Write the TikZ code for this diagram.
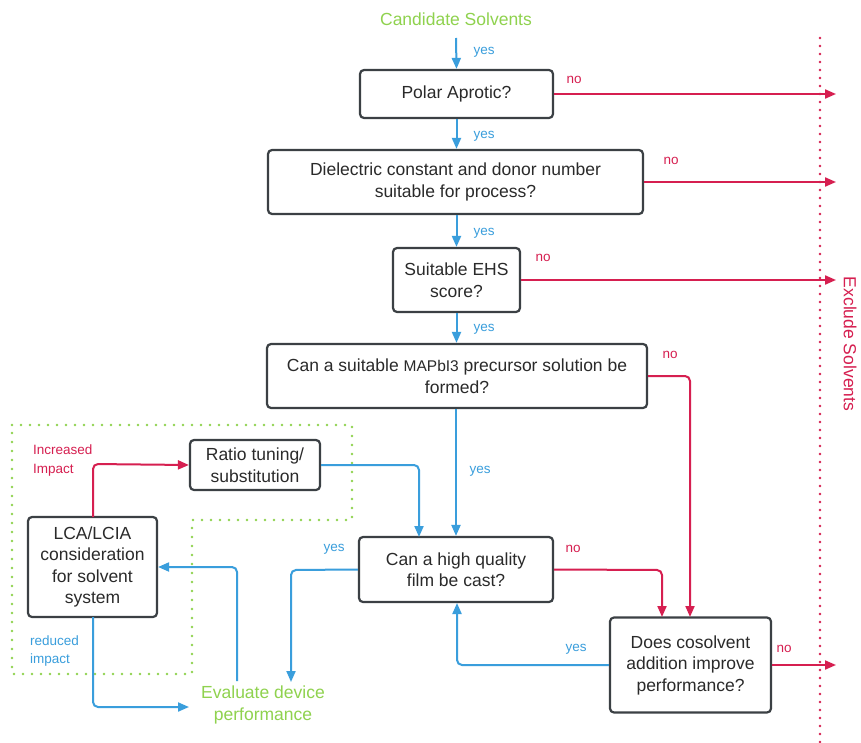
\documentclass[tikz,border=0pt]{standalone}
\usepackage{fontspec}
\setmainfont{Liberation Sans}
\usetikzlibrary{arrows.meta}
\definecolor{flowblue}{HTML}{3A9EDC}
\definecolor{flowred}{HTML}{D61F50}
\definecolor{flowgreen}{HTML}{8FD24E}
\definecolor{boxedge}{HTML}{3B4044}
\definecolor{boxtext}{HTML}{2A2A2A}
\begin{document}
\begin{tikzpicture}[x=1pt,y=-1pt,
  qbox/.style={draw=boxedge, line width=2.2pt, rounded corners=4pt, fill=white,
    text=boxtext, align=center, inner sep=0pt,
    font=\fontsize{17.5}{21.5}\selectfont},
  yesarrow/.style={draw=flowblue, line width=2pt, rounded corners=5pt,
    -{Triangle[length=11pt,width=9pt]}},
  noarrow/.style={draw=flowred, line width=2pt, rounded corners=5pt,
    -{Triangle[length=11pt,width=9pt]}},
  yeslbl/.style={text=flowblue, font=\fontsize{13.5}{16}\selectfont, inner sep=0pt},
  nolbl/.style={text=flowred, font=\fontsize{13.5}{16}\selectfont, inner sep=0pt},
  greentext/.style={text=flowgreen, align=center, inner sep=0pt,
    font=\fontsize{17.5}{22}\selectfont},
  greendots/.style={draw=flowgreen, line width=2.6pt, line cap=round,
    dash pattern=on 0pt off 9pt},
  reddots/.style={draw=flowred, line width=2.6pt, line cap=round,
    dash pattern=on 0pt off 8pt}
]
\useasboundingbox[fill=white] (0,0) rectangle (861,743);

% dotted frame around the impact loop
\draw[greendots] (12,425) -- (352,425) -- (352,520) -- (192,520) -- (192,674) -- (12,674) -- cycle;

% exclusion boundary
\draw[reddots] (820,38) -- (820,743);
\node[text=flowred, rotate=-90, inner sep=0pt, font=\fontsize{17.5}{21}\selectfont]
  (excl) at (850,344) {Exclude Solvents};
\coordinate (exx) at (836,0);

% start / end terms
\node[greentext] (cand) at (456,19) {Candidate Solvents};
\node[greentext] (eval) at (263,705) {Evaluate device\\performance};

% decision boxes
\node[qbox, minimum width=193pt, minimum height=48pt] (polar) at (456.5,94) {Polar Aprotic?};
\node[qbox, minimum width=375pt, minimum height=64pt] (diel) at (455.5,182)
  {Dielectric constant and donor number\\suitable for process?};
\node[qbox, minimum width=127pt, minimum height=64pt] (ehs) at (456.5,280) {Suitable EHS\\score?};
\node[qbox, minimum width=380pt, minimum height=64pt] (map) at (457,376)
  {Can a suitable {\fontsize{15.5}{21.5}\selectfont MAPbI3} precursor solution be\\formed?};
\node[qbox, minimum width=130pt, minimum height=50pt] (ratio) at (255,465) {Ratio tuning/\\substitution};
\node[qbox, minimum width=194pt, minimum height=65pt] (film) at (456,569.5) {Can a high quality\\film be cast?};
\node[qbox, minimum width=161pt, minimum height=95pt] (cos) at (690.5,665)
  {Does cosolvent\\addition improve\\performance?};
\node[qbox, minimum width=129pt, minimum height=100pt] (lca) at (92.5,567)
  {LCA/LCIA\\consideration\\for solvent\\system};

% main column
\draw[yesarrow] (456,38) -- (polar.north);
\draw[yesarrow] (polar.south) -- (polar.south |- diel.north);
\draw[yesarrow] (diel.south -| polar.south) -- (ehs.north);
\draw[yesarrow] (ehs.south) -- (ehs.south |- map.north);
\draw[yesarrow] (map.south -| film.north) -- (film.north);
\node[yeslbl] at (484,52) {yes};
\node[yeslbl] at (484,136) {yes};
\node[yeslbl] at (484,233) {yes};
\node[yeslbl] at (484,329) {yes};
\node[yeslbl] at (480,471) {yes};

% rejections
\draw[noarrow] (polar.east) -- (polar.east -| exx);
\draw[noarrow] (diel.east) -- (diel.east -| exx);
\draw[noarrow] (ehs.east) -- (ehs.east -| exx);
\draw[noarrow] (cos.east) -- (cos.east -| exx);
\node[nolbl] at (574,80) {no};
\node[nolbl] at (671,161) {no};
\node[nolbl] at (543,258) {no};
\node[nolbl] at (784,649) {no};

% routes into the cosolvent check
\draw[noarrow] (map.east) -- (690,376) -- (690,617);
\draw[noarrow] (film.east) -- (662,570) -- (662,617);
\node[nolbl] at (670,355) {no};
\node[nolbl] at (573,549) {no};

% cosolvent success loops back
\draw[yesarrow] (cos.west) -- (457,665) -- (457,603);
\node[yeslbl] at (576,649) {yes};

% film cast leads to evaluation
\draw[yesarrow] (film.west) -- (291,570) -- (291,682);
\node[yeslbl] at (334,549) {yes};

% impact loop
\draw[yesarrow] (ratio.east) -- (419,465) -- (419,537);
\draw[noarrow] (93,517) -- (93,464) -- (ratio.west);
\draw[yesarrow] (237,681) -- (237,567) -- (lca.east);
\draw[yesarrow] (93,617) -- (93,707) -- (189,707);
\node[text=flowred, align=left, anchor=north west, inner sep=0pt,
  font=\fontsize{13.5}{18.5}\selectfont] (inc) at (33,445) {Increased\\Impact};
\node[text=flowblue, align=left, anchor=north west, inner sep=0pt,
  font=\fontsize{13.5}{17.5}\selectfont] (red) at (30,636) {reduced\\impact};
\end{tikzpicture}
\end{document}
